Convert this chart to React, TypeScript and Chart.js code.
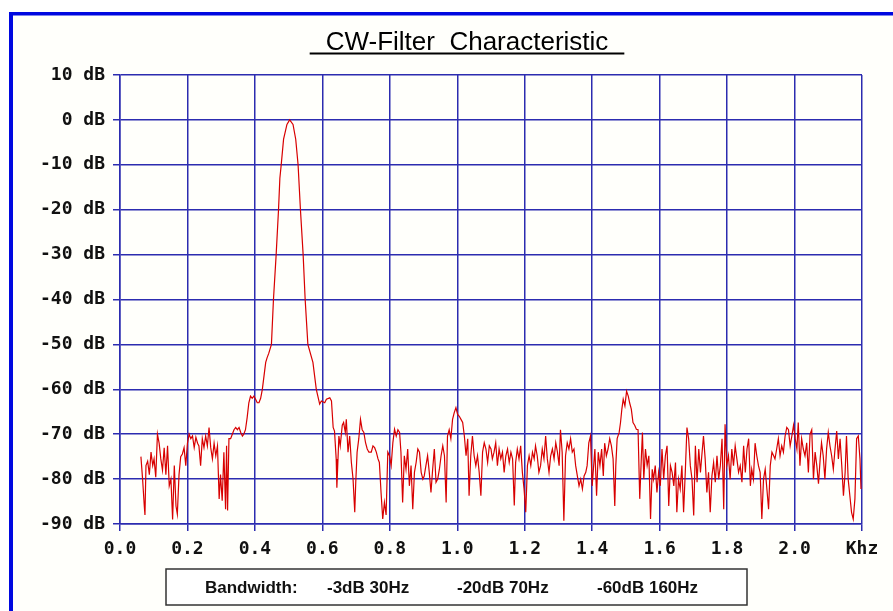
import React, { useEffect, useRef } from "react";
import { Chart, registerables } from "chart.js";

Chart.register(...registerables);

const titleText = "CW-Filter  Characteristic";
const legendItems = ["Bandwidth:", "-3dB 30Hz", "-20dB 70Hz", "-60dB 160Hz"];
const xTickValues = [0, 0.2, 0.4, 0.6, 0.8, 1.0, 1.2, 1.4, 1.6, 1.8, 2.0, 2.2];
const xTickLabels = ["0.0", "0.2", "0.4", "0.6", "0.8", "1.0", "1.2", "1.4", "1.6", "1.8", "2.0", "Khz"];
const yTickValues = [-90, -80, -70, -60, -50, -40, -30, -20, -10, 0, 10];
const yTickLabels = ["-90 dB", "-80 dB", "-70 dB", "-60 dB", "-50 dB", "-40 dB", "-30 dB", "-20 dB", "-10 dB", "0 dB", "10 dB"];

// [frequency kHz, level dB]
const lowBand: [number, number][] = [
  [0.062, -75], [0.067, -80], [0.072, -86], [0.074, -88], [0.077, -77], [0.082, -76], [0.087, -79], [0.092, -74],
  [0.097, -77], [0.101, -75.5], [0.106, -79.6], [0.111, -70], [0.116, -72], [0.121, -75.5], [0.126, -78], [0.131, -73],
  [0.136, -79], [0.141, -72.6], [0.146, -81.5], [0.151, -80], [0.156, -89], [0.161, -77], [0.166, -86], [0.170, -87.8],
  [0.175, -79], [0.180, -75], [0.185, -74.4], [0.190, -73], [0.195, -77], [0.200, -72], [0.205, -70], [0.210, -71],
  [0.215, -70.4], [0.220, -73], [0.225, -70.7], [0.230, -72], [0.234, -72.6], [0.239, -77], [0.244, -71], [0.249, -73],
  [0.254, -70.4], [0.259, -72.6], [0.264, -68.5], [0.269, -73], [0.274, -75.5], [0.279, -72], [0.284, -74.8], [0.289, -72.6],
  [0.294, -84.4], [0.298, -79], [0.303, -84.8], [0.308, -74], [0.313, -86.7], [0.316, -72.6], [0.319, -87], [0.323, -71],
  [0.328, -71], [0.333, -70], [0.338, -69], [0.343, -68.5], [0.348, -69], [0.353, -68.5], [0.358, -69.6], [0.363, -70.4],
  [0.367, -70], [0.372, -69], [0.377, -66.3], [0.382, -63], [0.387, -61.5], [0.392, -62], [0.397, -61.5], [0.402, -62.2],
  [0.407, -63], [0.412, -63], [0.417, -62], [0.422, -60], [0.427, -57], [0.432, -54], [0.436, -53], [0.441, -52],
];

const passBand: [number, number][] = [
  [0.449, -50], [0.455, -40], [0.463, -30], [0.470, -20], [0.474, -13], [0.478, -10], [0.485, -4.3], [0.495, -1],
  [0.503, 0], [0.513, -1], [0.521, -4.3], [0.528, -10], [0.535, -20], [0.543, -30], [0.549, -40], [0.557, -50],
  [0.572, -54], [0.582, -60],
];

const midBand: [number, number][] = [
  [0.592, -63.3], [0.597, -62.6], [0.607, -63], [0.612, -62.2], [0.622, -61.9], [0.627, -62.6], [0.632, -68.5], [0.636, -69.3],
  [0.641, -75.5], [0.643, -81.9], [0.649, -70.4], [0.653, -72.6], [0.659, -68], [0.663, -67.4], [0.668, -69.6], [0.671, -66.7],
  [0.676, -74], [0.681, -70.4], [0.686, -76.3], [0.691, -80], [0.696, -87.4], [0.699, -80.7], [0.703, -74], [0.708, -71],
  [0.713, -66.7], [0.718, -69], [0.723, -69.6], [0.728, -71.9], [0.733, -73.3], [0.738, -74], [0.745, -74], [0.750, -72.6],
  [0.755, -73], [0.760, -74], [0.765, -75.5], [0.769, -76.3], [0.774, -83], [0.779, -88.9], [0.784, -85.2], [0.789, -88],
  [0.794, -74], [0.799, -74.8], [0.804, -77], [0.809, -71.9], [0.814, -68.9], [0.819, -70.4], [0.824, -69], [0.829, -69.6],
  [0.833, -74], [0.838, -85.2], [0.843, -74.8], [0.848, -77.8], [0.853, -73.3], [0.858, -81.5], [0.863, -77], [0.868, -86.7],
  [0.873, -78.5], [0.878, -76.3], [0.883, -73.3], [0.888, -74], [0.893, -78.5], [0.898, -80], [0.902, -79.3], [0.907, -77],
  [0.912, -74.8], [0.917, -78.5], [0.922, -83], [0.927, -77.8], [0.932, -73.3], [0.937, -80.7], [0.942, -80], [0.947, -77.8],
  [0.952, -74.8], [0.957, -72.6], [0.962, -74.8], [0.967, -85.2], [0.971, -70.4], [0.976, -69], [0.981, -71], [0.986, -66.7],
  [0.991, -65.2], [0.996, -64.1], [1.001, -65.6], [1.006, -66], [1.011, -66.7], [1.016, -67.4], [1.021, -70.4], [1.026, -74.8],
  [1.031, -71], [1.035, -83.7], [1.040, -74.8], [1.045, -70.4], [1.050, -74.8], [1.055, -77], [1.060, -74.8], [1.065, -78.5],
  [1.070, -83.7], [1.075, -74], [1.080, -71.9], [1.085, -73.3], [1.090, -76.3], [1.095, -72.6], [1.100, -73.3], [1.104, -75.5],
  [1.109, -74], [1.114, -71.9], [1.119, -77], [1.124, -73.3], [1.129, -75.5], [1.134, -74], [1.139, -78.5], [1.144, -74.8],
  [1.149, -73.3], [1.154, -76.3], [1.159, -74], [1.164, -75.5], [1.169, -85.9], [1.173, -76.3], [1.178, -73.3], [1.183, -75.5],
  [1.188, -72.6], [1.193, -78.5], [1.198, -82.2], [1.203, -87.4], [1.208, -77], [1.213, -74.8], [1.218, -77], [1.223, -74],
  [1.228, -75.5], [1.232, -72.6], [1.237, -74.8], [1.242, -78.5], [1.247, -77], [1.252, -73.3], [1.257, -75.5], [1.262, -70.4],
  [1.267, -75.5], [1.272, -78.5], [1.277, -74.8], [1.282, -73.3], [1.287, -75.5], [1.292, -71.9], [1.297, -74], [1.302, -77],
  [1.306, -69], [1.311, -74], [1.316, -89.3], [1.321, -74.8], [1.326, -71.9], [1.331, -73.3], [1.336, -71], [1.341, -74],
  [1.346, -73.3], [1.351, -77], [1.356, -79.3], [1.361, -81.5], [1.366, -80], [1.371, -82.2], [1.376, -79.3], [1.381, -78.5],
  [1.385, -77], [1.390, -71.9], [1.395, -70.4], [1.400, -81.5],
];

const highBand: [number, number][] = [
  [1.408, -73.3], [1.413, -83.7], [1.418, -74], [1.423, -77], [1.428, -73.3], [1.433, -79.3], [1.437, -72], [1.442, -74.8],
  [1.447, -73.3], [1.452, -71], [1.457, -72.6], [1.462, -75.5], [1.467, -86], [1.470, -77], [1.474, -71], [1.480, -69.6],
  [1.484, -67.4], [1.488, -64.4], [1.492, -62.2], [1.497, -63.7], [1.502, -60.4], [1.507, -61.5], [1.511, -63], [1.516, -64.4],
  [1.521, -67.4], [1.526, -68], [1.531, -68.9], [1.536, -69], [1.541, -84.4], [1.546, -74.8], [1.549, -69.6], [1.553, -80],
  [1.558, -73.3], [1.563, -77], [1.568, -74.8], [1.573, -88.9], [1.578, -77.8], [1.582, -80], [1.587, -77], [1.592, -83],
  [1.597, -78.5], [1.602, -81.5], [1.607, -73.3], [1.612, -80], [1.617, -74.8], [1.622, -72.6], [1.627, -86], [1.632, -77],
  [1.637, -78.5], [1.642, -81.5], [1.647, -76.3], [1.651, -87.4], [1.656, -80], [1.661, -82.2], [1.666, -77], [1.671, -87.4],
  [1.676, -78.5], [1.681, -68.5], [1.686, -71], [1.691, -77], [1.696, -80], [1.701, -88.1], [1.706, -72.6], [1.711, -80.7],
  [1.716, -73.3], [1.721, -78.5], [1.725, -74.8], [1.730, -70.4], [1.735, -75.5], [1.740, -83], [1.745, -78.5], [1.750, -87.4],
  [1.755, -79.3], [1.760, -76.3], [1.765, -80.7], [1.770, -74.8], [1.775, -80], [1.780, -77], [1.785, -71], [1.790, -86.7],
  [1.794, -67.8], [1.799, -77], [1.804, -74.8], [1.809, -80], [1.814, -73.3], [1.819, -77], [1.824, -72.6], [1.829, -75.5],
  [1.834, -78.5], [1.839, -77], [1.844, -80.7], [1.849, -72.6], [1.854, -78.5], [1.859, -73.3], [1.864, -71], [1.869, -81.5],
  [1.873, -77.8], [1.878, -80], [1.883, -72], [1.888, -74.8], [1.893, -77], [1.898, -78.5], [1.903, -88.9], [1.908, -80],
  [1.913, -77.8], [1.918, -82.2], [1.923, -86.7], [1.928, -77], [1.933, -74], [1.938, -74.8], [1.942, -75.5], [1.947, -73.3],
  [1.952, -71], [1.957, -74.8], [1.962, -72.6], [1.967, -74], [1.972, -70.4], [1.977, -68.5], [1.982, -69], [1.987, -72.6],
  [1.992, -70.4], [1.997, -68], [2.002, -71], [2.007, -73.3], [2.011, -67.4], [2.016, -77], [2.021, -71], [2.026, -73.3],
  [2.031, -74.8], [2.036, -71.9], [2.041, -78.5], [2.046, -70], [2.051, -69], [2.056, -80], [2.061, -74], [2.066, -77],
  [2.071, -81], [2.076, -75.5], [2.080, -71.9], [2.085, -74.8], [2.090, -80], [2.095, -73.3], [2.100, -69.6], [2.105, -72.6],
  [2.110, -74.8], [2.115, -77.8], [2.120, -73.3], [2.125, -69.3], [2.130, -75.5], [2.135, -71], [2.140, -77], [2.145, -83.7],
  [2.150, -78.5], [2.154, -70.4], [2.159, -80], [2.164, -83.7], [2.169, -87.4], [2.174, -88.9], [2.179, -84.4], [2.184, -71],
  [2.189, -70.4], [2.194, -75.5], [2.197, -82.2],
];

const GRID = "#2c2cb0";
const TRACE = "#d80000";
const FRAME = "#0008e0";
const TICK_FONT = { family: "'DejaVu Sans Mono', monospace", size: 18, weight: "bold" as const };

const decorPlugin = {
  id: "decor",
  beforeDraw(chart: any) {
    const { ctx, width, height } = chart;
    ctx.save();
    ctx.fillStyle = "#ffffff";
    ctx.fillRect(0, 0, width, height);
    ctx.fillStyle = "#fffffb";
    ctx.fillRect(13, 15, width, height);
    ctx.fillStyle = FRAME;
    ctx.fillRect(9, 12, width, 3.5);
    ctx.fillRect(9, 12, 4, height);
    ctx.restore();
  },
  afterDraw(chart: any) {
    const { ctx } = chart;
    ctx.save();
    // title
    ctx.fillStyle = "#000";
    ctx.font = "26px 'Liberation Sans', Arial, sans-serif";
    ctx.textAlign = "center";
    ctx.textBaseline = "alphabetic";
    const cx = 467;
    ctx.fillText(titleText, cx, 50);
    const w = ctx.measureText(titleText).width;
    ctx.fillRect(cx - w / 2 - 16, 52.5, w + 32, 2);
    // legend box
    ctx.fillStyle = "#ffffff";
    ctx.fillRect(166, 569, 581, 36);
    ctx.strokeStyle = "#333";
    ctx.lineWidth = 1.5;
    ctx.strokeRect(166, 569, 581, 36);
    ctx.fillStyle = "#111";
    ctx.font = "bold 17px 'Liberation Sans', Arial, sans-serif";
    ctx.textAlign = "left";
    ctx.textBaseline = "middle";
    const xs = [205, 327, 457, 597];
    legendItems.forEach((t, i) => ctx.fillText(t, xs[i], 588));
    ctx.restore();
  },
};

export default function App() {
  const ref = useRef<HTMLCanvasElement | null>(null);
  useEffect(() => {
    if (!ref.current) return;
    const points = [...lowBand, ...passBand, ...midBand, ...highBand].map(([x, y]) => ({ x, y }));
    const chart = new Chart(ref.current, {
      type: "line",
      data: {
        datasets: [
          {
            data: points,
            borderColor: TRACE,
            borderWidth: 1.2,
            pointRadius: 0,
            tension: 0,
            fill: false,
          },
        ],
      },
      options: {
        animation: false,
        responsive: false,
        devicePixelRatio: 1,
        layout: { padding: { top: 75, right: 31, left: 0, bottom: 0 } },
        plugins: { legend: { display: false }, title: { display: false }, tooltip: { enabled: false } },
        scales: {
          x: {
            type: "linear",
            min: 0,
            max: 2.2,
            afterBuildTicks: (s: any) => {
              s.ticks = xTickValues.map((v) => ({ value: v }));
            },
            afterFit: (s: any) => {
              s.height = 87;
            },
            ticks: {
              autoSkip: false,
              maxRotation: 0,
              padding: 8,
              color: "#111",
              font: TICK_FONT,
              callback: (_v: any, i: number) => xTickLabels[i],
            },
            grid: { color: GRID, lineWidth: 1.5, tickLength: 7, tickColor: GRID, drawTicks: true },
            border: { color: GRID, width: 1.5 },
          },
          y: {
            type: "linear",
            min: -90,
            max: 10,
            afterBuildTicks: (s: any) => {
              s.ticks = yTickValues.map((v) => ({ value: v }));
            },
            afterFit: (s: any) => {
              s.width = 120;
            },
            ticks: {
              autoSkip: false,
              padding: 8,
              color: "#111",
              font: TICK_FONT,
              callback: (_v: any, i: number) => yTickLabels[i],
            },
            grid: { color: GRID, lineWidth: 1.5, tickLength: 7, tickColor: GRID, drawTicks: true },
            border: { color: GRID, width: 1.5 },
          },
        },
      },
      plugins: [decorPlugin],
    });
    return () => chart.destroy();
  }, []);
  return (
    <div style={{ position: "fixed", left: 0, top: 0, width: 893, height: 611 }}>
      <canvas ref={ref} width={893} height={611} style={{ width: 893, height: 611 }} />
    </div>
  );
}
